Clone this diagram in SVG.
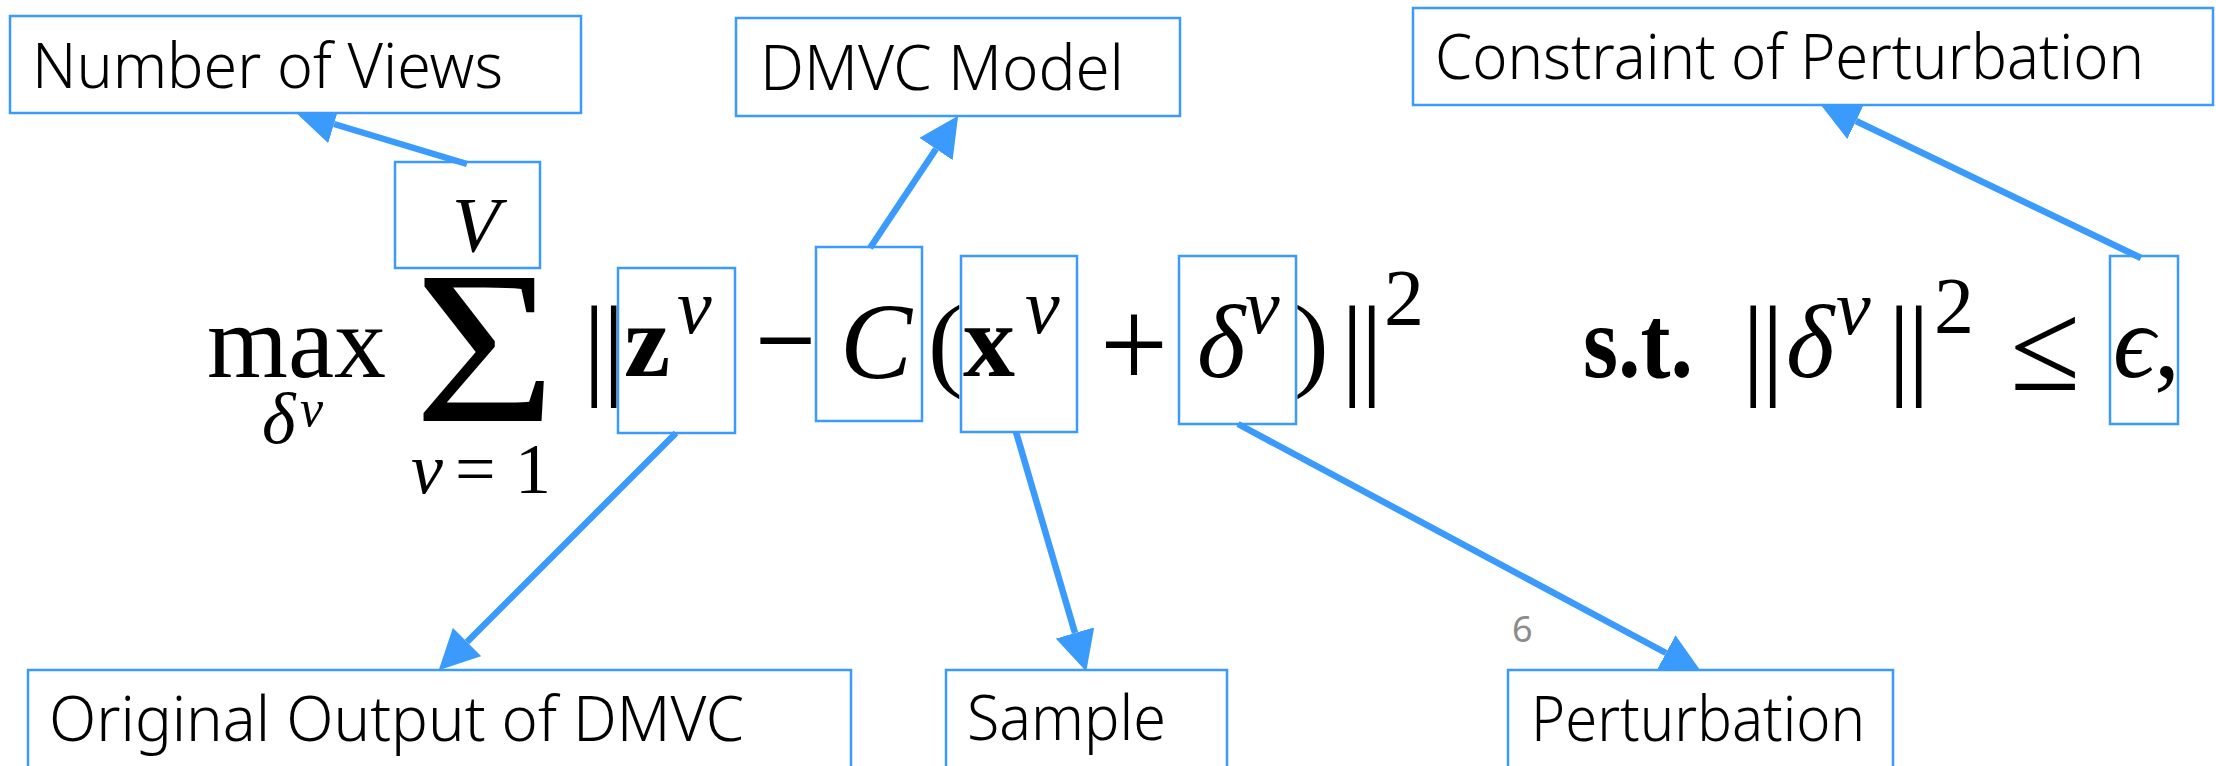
<svg xmlns="http://www.w3.org/2000/svg" width="2216" height="766" viewBox="0 0 2216 766">
  <style>
    .box { fill: none; stroke: #3a9bfc; stroke-width: 2.5; }
    .lblbox { fill: #ffffff; stroke: #3a9bfc; stroke-width: 2.5; }
    .lbl { font-family: "Noto Sans", "Open Sans", "Liberation Sans", sans-serif; font-size: 62px; font-weight: 300; fill: #000; }
    .m { font-family: "Liberation Serif", "Times New Roman", "DejaVu Serif", serif; font-size: 104px; fill: #000; }
    .it { font-style: italic; }
    .bd { font-weight: bold; }
    .sup { font-size: 78px; font-style: italic; }
    .conn line { stroke: #3a9bfc; stroke-width: 6.5; }
    .pg { font-family: "Noto Sans", "Liberation Sans", sans-serif; font-size: 36px; fill: #8c8c8c; }
  </style>
  <defs>
    <marker id="head" markerUnits="userSpaceOnUse" markerWidth="40" markerHeight="40" refX="0" refY="20" orient="auto" viewBox="0 0 40 40">
      <path d="M0,0 L40,20 L0,40 z" fill="#3a9bfc"/>
    </marker>
  </defs>

  <!-- formula text that is not boxed -->
  <g id="formula">
    <text class="m" x="207" y="377">max</text>
    <text class="m it" x="262" y="443" style="font-size:72px">δ</text>
    <text class="m it" x="300" y="426" style="font-size:52px">v</text>
    <text class="m" x="414" y="421" style="font-size:218px" transform="translate(414 0) scale(1.12 1) translate(-414 0)">Σ</text>
    <text class="m it" x="411" y="493" style="font-size:72px">v</text>
    <text class="m" x="455" y="493" style="font-size:72px" textLength="96" lengthAdjust="spacing">=1</text>
    <text class="m" x="583" y="384" style="font-size:112px" letter-spacing="-3">||</text>
    <text class="m" x="755" y="384" style="font-size:130px" textLength="61" lengthAdjust="spacingAndGlyphs">−</text>
    <text class="m" x="928" y="377">(</text>
    <text class="m" x="1100" y="388" style="font-size:130px" textLength="68" lengthAdjust="spacingAndGlyphs">+</text>
    <text class="m" x="1294" y="377">)</text>
    <text class="m" x="1341" y="384" style="font-size:112px" letter-spacing="-3">||</text>
    <text class="m" x="1384" y="325" style="font-size:80px">2</text>
    <text class="m bd" x="1583" y="377" textLength="110" lengthAdjust="spacingAndGlyphs">s.t.</text>
    <text class="m" x="1742" y="384" style="font-size:112px" letter-spacing="-3">||</text>
    <text class="m it" x="1786" y="377">δ</text>
    <text class="m sup" x="1836" y="334">v</text>
    <text class="m" x="1888" y="384" style="font-size:112px" letter-spacing="-3">||</text>
    <text class="m" x="1934" y="333" style="font-size:80px">2</text>
    <text class="m" x="2010" y="390" style="font-size:128px">≤</text>
    <text class="m" x="2154" y="377">,</text>
  </g>

  <!-- connectors -->
  <g id="connectors" class="conn">
    <line x1="467" y1="164" x2="334" y2="124" marker-end="url(#head)"/>
    <line x1="870" y1="248" x2="936" y2="149" marker-end="url(#head)"/>
    <line x1="2141" y1="258" x2="1856" y2="121" marker-end="url(#head)"/>
    <line x1="676" y1="433" x2="467" y2="642" marker-end="url(#head)"/>
    <line x1="1016" y1="432" x2="1075" y2="633" marker-end="url(#head)"/>
    <line x1="1238" y1="424" x2="1666" y2="653" marker-end="url(#head)"/>
  </g>

  <!-- boxed formula terms -->
  <g id="term-V">
    <rect class="box" x="395" y="162" width="145" height="106"/>
    <text class="m it" x="452" y="251" style="font-size:78px">V</text>
  </g>
  <g id="term-z">
    <rect class="box" x="618" y="268" width="117" height="165"/>
    <text class="m bd" x="624" y="376">z</text>
    <text class="m sup" x="677" y="333">v</text>
  </g>
  <g id="term-C">
    <rect class="box" x="816" y="247" width="106" height="174"/>
    <text class="m it" x="840" y="378" style="font-size:108px">C</text>
  </g>
  <g id="term-x">
    <rect class="box" x="961" y="256" width="116" height="176"/>
    <text class="m bd" x="963" y="376">x</text>
    <text class="m sup" x="1025" y="333">v</text>
  </g>
  <g id="term-delta">
    <rect class="box" x="1179" y="256" width="117" height="168"/>
    <text class="m it" x="1197" y="377">δ</text>
    <text class="m sup" x="1245" y="333">v</text>
  </g>
  <g id="term-eps">
    <rect class="box" x="2110" y="256" width="68" height="168"/>
    <text class="m it" x="2113" y="377">ϵ</text>
  </g>

  <!-- label nodes -->
  <g id="lbl-views">
    <rect class="lblbox" x="10" y="16" width="571" height="97"/>
    <text class="lbl" x="32" y="88" textLength="471" lengthAdjust="spacingAndGlyphs">Number of Views</text>
  </g>
  <g id="lbl-model">
    <rect class="lblbox" x="736" y="18" width="444" height="98"/>
    <text class="lbl" x="760" y="90" textLength="364" lengthAdjust="spacingAndGlyphs">DMVC Model</text>
  </g>
  <g id="lbl-constraint">
    <rect class="lblbox" x="1413" y="8" width="800" height="97"/>
    <text class="lbl" x="1435" y="79" textLength="709" lengthAdjust="spacingAndGlyphs">Constraint of Perturbation</text>
  </g>
  <g id="lbl-output">
    <rect class="lblbox" x="28" y="670" width="823" height="110"/>
    <text class="lbl" x="49" y="741" textLength="695" lengthAdjust="spacingAndGlyphs">Original Output of DMVC</text>
  </g>
  <g id="lbl-sample">
    <rect class="lblbox" x="946" y="670" width="281" height="110"/>
    <text class="lbl" x="967" y="740" textLength="199" lengthAdjust="spacingAndGlyphs">Sample</text>
  </g>
  <g id="lbl-perturbation">
    <rect class="lblbox" x="1508" y="670" width="385" height="110"/>
    <text class="lbl" x="1531" y="741" textLength="334" lengthAdjust="spacingAndGlyphs">Perturbation</text>
  </g>

  <text class="pg" x="1512" y="642">6</text>
</svg>
